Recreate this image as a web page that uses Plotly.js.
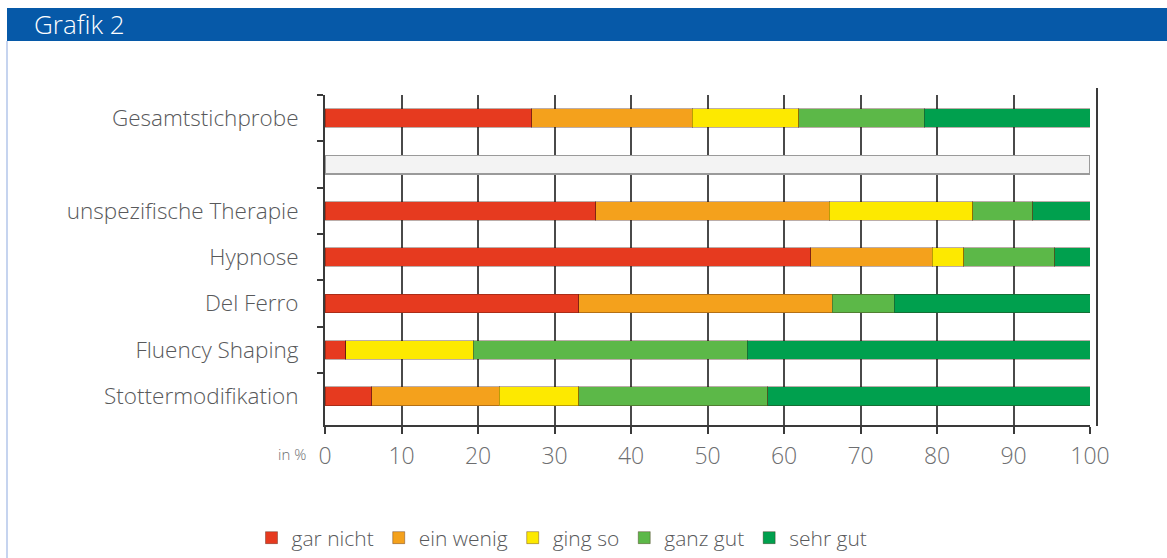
<!DOCTYPE html>
<html>
<head>
<meta charset="utf-8">
<script src="https://cdn.plot.ly/plotly-3.0.1.min.js"></script>
<style>
html,body{margin:0;padding:0;background:#ffffff;}
#chart{width:1167px;height:558px;}
</style>
</head>
<body>
<div id="chart"></div>
<script>
// ---- data ----
const categories = ['Gesamtstichprobe', ' ', 'unspezifische Therapie', 'Hypnose', 'Del Ferro', 'Fluency Shaping', 'Stottermodifikation'];
const seriesNames = ['gar nicht', 'ein wenig', 'ging so', 'ganz gut', 'sehr gut'];
const garNicht = [27.0, null, 35.4, 63.5, 33.2, 2.7, 6.1];
const einWenig = [21.0, null, 30.5, 15.9, 33.1, 0, 16.7];
const gingSo   = [13.9, null, 18.8, 4.1, 0, 16.7, 10.4];
const ganzGut  = [16.4, null, 7.8, 11.9, 8.1, 35.8, 24.7];
const sehrGut  = [21.7, null, 7.5, 4.6, 25.6, 44.8, 42.1];
const separator = [null, 100, null, null, null, null, null];
const xTickValues = [0, 10, 20, 30, 40, 50, 60, 70, 80, 90, 100];

// ---- styling ----
const colors = ['#e63a1f', '#f4a11c', '#fde900', '#5cb848', '#00a04e'];
const W = 1167, H = 558;
const M = {l: 325, r: 77, t: 95, b: 133, autoexpand: false};
const plotW = W - M.l - M.r, plotH = H - M.t - M.b;
const px = x => (x - M.l) / plotW;
const py = y => (H - M.b - y) / plotH;
const fontFam = '"Open Sans", Lato, "DejaVu Sans", sans-serif';

const allSeries = [garNicht, einWenig, gingSo, ganzGut, sehrGut];
const traces = allSeries.map((vals, i) => ({
  type: 'bar',
  orientation: 'h',
  name: seriesNames[i],
  y: categories,
  x: vals,
  width: 0.4,
  marker: {color: colors[i], line: {color: 'rgba(60,20,10,0.35)', width: 1}},
  hoverinfo: 'skip'
}));
traces.push({
  type: 'bar',
  orientation: 'h',
  name: 'sep',
  showlegend: false,
  y: categories,
  x: separator,
  width: 0.4,
  marker: {color: '#f3f3f3', line: {color: '#9a9a9a', width: 1.5}},
  hoverinfo: 'skip'
});

const layout = {
  width: W, height: H,
  margin: M,
  paper_bgcolor: '#ffffff',
  plot_bgcolor: '#ffffff',
  barmode: 'stack',
  font: {family: fontFam, color: '#58595b', weight: 300},
  title: {
    text: 'Grafik 2',
    font: {family: fontFam, size: 26, color: '#ffffff', weight: 300},
    x: 34 / W, xanchor: 'left', xref: 'container',
    y: 1 - 25 / H, yanchor: 'middle', yref: 'container'
  },
  xaxis: {
    range: [0, 100],
    tickvals: xTickValues,
    ticktext: xTickValues.map(String),
    showgrid: true,
    gridcolor: '#4a4a4a',
    gridwidth: 2,
    zeroline: false,
    showline: true,
    linecolor: '#3a3a3a',
    linewidth: 2,
    ticks: 'outside',
    ticklen: 7,
    tickwidth: 2,
    tickcolor: '#3a3a3a',
    ticklabelstandoff: 2,
    tickfont: {family: fontFam, size: 23, color: '#6d6e70', weight: 300},
    fixedrange: true
  },
  yaxis: {
    type: 'category',
    categoryorder: 'array',
    categoryarray: categories,
    range: [6.62, -0.5],
    showgrid: false,
    zeroline: false,
    showline: true,
    linecolor: '#3a3a3a',
    linewidth: 2,
    ticks: 'outside',
    tickson: 'boundaries',
    ticklen: 6,
    tickwidth: 2,
    tickcolor: '#3a3a3a',
    ticklabelstandoff: 20,
    tickfont: {family: fontFam, size: 22.5, color: '#58595b', weight: 300},
    fixedrange: true
  },
  legend: {
    orientation: 'h',
    x: px(562), xanchor: 'center',
    y: py(538), yanchor: 'middle',
    font: {family: fontFam, size: 21, color: '#58595b', weight: 300},
    traceorder: 'normal',
    itemwidth: 30
  },
  shapes: [
    {type: 'rect', xref: 'paper', yref: 'paper', x0: px(7), x1: px(1167), y0: py(41), y1: py(8),
     fillcolor: '#0659a8', line: {width: 0}, layer: 'below'},
    {type: 'line', xref: 'paper', yref: 'paper', x0: px(7), x1: px(7), y0: py(41), y1: py(558),
     line: {color: '#b3c6ea', width: 1.5}},
    {type: 'line', xref: 'paper', yref: 'paper', x0: px(1097), x1: px(1097), y0: py(88), y1: py(426),
     line: {color: '#3a3a3a', width: 2}}
  ],
  annotations: [
    {text: 'in %', xref: 'paper', yref: 'paper', x: px(308), y: py(454), xanchor: 'right', yanchor: 'middle',
     showarrow: false, font: {family: fontFam, size: 15, color: '#6d6e70', weight: 300}}
  ]
};

Plotly.newPlot('chart', traces, layout, {displayModeBar: false, staticPlot: true});
</script>
</body>
</html>
